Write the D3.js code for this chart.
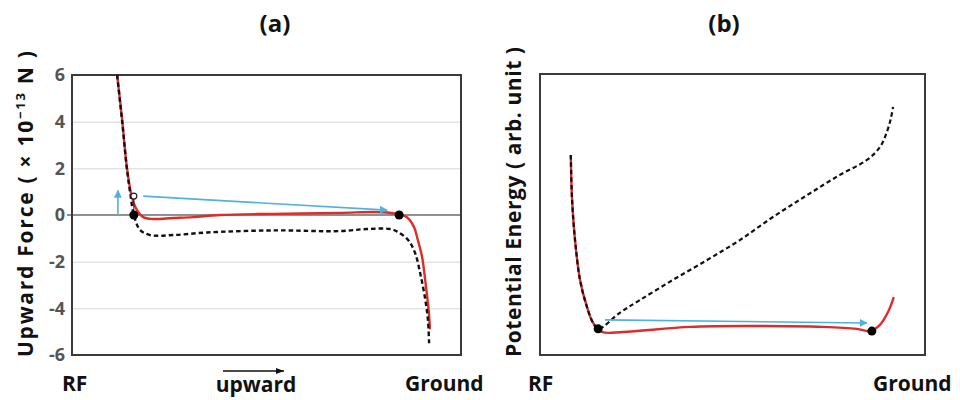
<!DOCTYPE html>
<html>
<head>
<meta charset="utf-8">
<script src="https://cdn.jsdelivr.net/npm/d3@7"></script>
<style>
  html, body { margin: 0; padding: 0; background: #fff; }
  svg { display: block; }
  text { font-family: "Open Sans", "Noto Sans", sans-serif; font-weight: 700; }
</style>
</head>
<body>
<svg id="chart" width="960" height="400"></svg>
<script>
// ---- Panel (a): upward force vs. position between RF electrode and ground ----
const forceTicks = [-6, -4, -2, 0, 2, 4, 6];
// total force with the DC field (solid red)
const forceTotal = [
  [11.6, 6], [12.9, 4.07], [14.1, 2.06], [15.4, 0.77], [16.7, 0.21], [18.3, -0.09],
  [20.8, -0.17], [26.0, -0.13], [31.1, -0.09], [38.0, 0], [51.7, 0.05], [68.9, 0.09],
  [77.4, 0.13], [81.0, 0.11], [83.8, 0.04], [86.1, -0.1], [87.9, -0.51], [88.9, -1.07],
  [90.0, -1.8], [90.8, -2.79], [91.4, -3.64], [91.8, -4.3], [92.0, -4.9]
];
// force without the DC field (dashed black)
const forceNoField = [
  [11.6, 6], [12.9, 4.0], [14.1, 2.0], [15.0, 0.9], [15.9, 0], [17.5, -0.64],
  [20.1, -0.86], [26.0, -0.86], [34.7, -0.75], [51.7, -0.66], [68.9, -0.69],
  [75.8, -0.6], [81.7, -0.6], [83.5, -0.7], [86.4, -1.07], [88.2, -1.63],
  [89.5, -2.49], [90.7, -3.51], [91.5, -4.5], [91.8, -5.5]
];
const forceEquilibria = [[15.9, 0], [84.1, 0]];
const forceKick = [[11.8, 0], [11.8, 1.05]];          // small upward push
const forceKickPoint = [15.9, 0.81];                  // open circle on the wall
const forceTransfer = [[18.3, 0.81], [81.0, 0.21]];   // hop toward ground

// ---- Panel (b): potential energy ----
const energyTotal = [
  [8.0, 7.12], [8.3, 5.62], [9.1, 4.09], [10.4, 2.67], [12.2, 1.71], [13.8, 1.14],
  [16.1, 0.82], [21.6, 0.82], [39.0, 1.0], [56.4, 1.03], [73.5, 1.0], [82.3, 0.93],
  [85.7, 0.85], [88.3, 1.07], [90.4, 1.53], [91.9, 2.06]
];
const energyNoField = [
  [8.0, 7.12], [8.3, 5.62], [9.1, 4.09], [10.4, 2.67], [12.2, 1.71], [13.8, 1.14],
  [15.1, 0.93], [20.8, 1.51], [26.0, 1.96], [34.5, 2.67], [43.4, 3.38], [51.9, 4.09],
  [60.5, 4.91], [69.4, 5.69], [77.9, 6.41], [84.9, 6.94], [88.3, 7.40], [90.1, 7.94],
  [91.1, 8.40], [91.7, 8.83]
];
const energyMinima = [[15.1, 0.93], [86.2, 0.85]];
const energyTransfer = [[16.9, 1.25], [84.9, 1.14]];

const panelTitles = ["(a)", "(b)"];
const endLabels = ["RF", "Ground"];

const RED = "#dd2c2a", BLUE = "#4db3db", BOX = "#3a3a3a";

const svg = d3.select("#chart");
svg.append("rect").attr("width", 960).attr("height", 400).attr("fill", "#fff");

const defs = svg.append("defs");
defs.append("marker")
  .attr("id", "blueHead").attr("viewBox", "0 0 10 10")
  .attr("refX", 9).attr("refY", 5)
  .attr("markerWidth", 5).attr("markerHeight", 5)
  .attr("markerUnits", "strokeWidth")
  .attr("orient", "auto")
  .append("path").attr("d", "M0,0 L10,5 L0,10 z").attr("fill", BLUE);

const curve = d3.curveCatmullRom.alpha(0.5);

// ================= Panel (a) =================
const A = { left: 72, right: 461, top: 75, bottom: 355 };
const xA = d3.scaleLinear().domain([0, 100]).range([A.left, A.right]);
const yA = d3.scaleLinear().domain([-6, 6]).range([A.bottom, A.top]);
const gA = svg.append("g");

// light grid
gA.append("g")
  .attr("transform", `translate(${A.left},0)`)
  .call(d3.axisLeft(yA).tickValues(forceTicks.filter(v => Math.abs(v) !== 6 && v !== 0))
        .tickSize(-(A.right - A.left)).tickFormat(""))
  .call(g => g.select(".domain").remove())
  .call(g => g.selectAll("line").attr("stroke", "#d6d6d6").attr("stroke-width", 1));

// tick labels
gA.append("g")
  .attr("transform", `translate(${A.left},0)`)
  .call(d3.axisLeft(yA).tickValues(forceTicks).tickSize(0).tickPadding(7)
        .tickFormat(d => d))
  .call(g => g.select(".domain").remove())
  .call(g => g.selectAll("text")
      .attr("fill", "#555").attr("font-size", 18).attr("font-weight", 700)
      .style("font-family", "'Open Sans', sans-serif"));

// zero line
gA.append("line")
  .attr("x1", A.left - 5).attr("x2", A.right)
  .attr("y1", yA(0)).attr("y2", yA(0))
  .attr("stroke", "#222").attr("stroke-width", 1.2);

// box
gA.append("rect")
  .attr("x", A.left).attr("y", A.top)
  .attr("width", A.right - A.left).attr("height", A.bottom - A.top)
  .attr("fill", "none").attr("stroke", BOX).attr("stroke-width", 2);

const lineA = d3.line().x(d => xA(d[0])).y(d => yA(d[1])).curve(curve);

gA.append("path").datum(forceTotal).attr("d", lineA)
  .attr("fill", "none").attr("stroke", RED).attr("stroke-width", 2.4);
gA.append("path").datum(forceNoField).attr("d", lineA)
  .attr("fill", "none").attr("stroke", "#111").attr("stroke-width", 2.4)
  .attr("stroke-dasharray", "4.5,3");

// blue arrows
const straightA = d3.line().x(d => xA(d[0])).y(d => yA(d[1]));
gA.append("path").datum(forceKick).attr("d", straightA)
  .attr("stroke", BLUE).attr("stroke-width", 1.6).attr("fill", "none")
  .attr("marker-end", "url(#blueHead)");
gA.append("path").datum(forceTransfer).attr("d", straightA)
  .attr("stroke", BLUE).attr("stroke-width", 1.6).attr("fill", "none")
  .attr("marker-end", "url(#blueHead)");

// markers
gA.append("line")
  .attr("x1", xA(forceKickPoint[0])).attr("x2", xA(forceEquilibria[0][0]))
  .attr("y1", yA(forceKickPoint[1])).attr("y2", yA(0))
  .attr("stroke", "#222").attr("stroke-width", 1);
gA.append("circle")
  .attr("cx", xA(forceKickPoint[0])).attr("cy", yA(forceKickPoint[1])).attr("r", 3)
  .attr("fill", "#fff").attr("stroke", "#222").attr("stroke-width", 1.2);
gA.selectAll("circle.eq").data(forceEquilibria).join("circle").attr("class", "eq")
  .attr("cx", d => xA(d[0])).attr("cy", d => yA(d[1])).attr("r", 4.5).attr("fill", "#000");

// titles and labels
gA.append("text").attr("x", 275).attr("y", 32).attr("text-anchor", "middle")
  .attr("font-size", 24).attr("fill", "#111").text(panelTitles[0]);

const yTitleA = gA.append("text")
  .attr("transform", `translate(33,204) rotate(-90)`)
  .attr("text-anchor", "middle").attr("font-size", 21).attr("fill", "#111")
  .attr("textLength", 306).attr("lengthAdjust", "spacing");
yTitleA.append("tspan").text("Upward Force  ( × 10");
yTitleA.append("tspan").attr("dy", -8).attr("font-size", 13).text("−13");
yTitleA.append("tspan").attr("dy", 8).text(" N )");

gA.append("text").attr("x", 62).attr("y", 391).attr("font-size", 21)
  .attr("fill", "#111").text(endLabels[0]);
gA.append("text").attr("x", 256).attr("y", 392).attr("text-anchor", "middle")
  .attr("font-size", 21).attr("fill", "#111").text("upward");
gA.append("line").attr("x1", 223).attr("x2", 284).attr("y1", 371).attr("y2", 371)
  .attr("stroke", "#111").attr("stroke-width", 1.3);
gA.append("path").attr("d", "M284,371 l-8,-3 l0,6 z").attr("fill", "#111");
gA.append("text").attr("x", 405).attr("y", 391).attr("font-size", 21)
  .attr("fill", "#111").text(endLabels[1]);

// ================= Panel (b) =================
const B = { left: 540, right: 925, top: 74, bottom: 355 };
const xB = d3.scaleLinear().domain([0, 100]).range([B.left, B.right]);
const yB = d3.scaleLinear().domain([0, 10]).range([B.bottom, B.top]);
const gB = svg.append("g");

gB.append("rect")
  .attr("x", B.left).attr("y", B.top)
  .attr("width", B.right - B.left).attr("height", B.bottom - B.top)
  .attr("fill", "none").attr("stroke", BOX).attr("stroke-width", 2);

const lineB = d3.line().x(d => xB(d[0])).y(d => yB(d[1])).curve(curve);

gB.append("path").datum(energyTotal).attr("d", lineB)
  .attr("fill", "none").attr("stroke", RED).attr("stroke-width", 2.4);
gB.append("path").datum(energyNoField).attr("d", lineB)
  .attr("fill", "none").attr("stroke", "#111").attr("stroke-width", 2.2)
  .attr("stroke-dasharray", "4.5,3");

gB.append("path").datum(energyTransfer)
  .attr("d", d3.line().x(d => xB(d[0])).y(d => yB(d[1])))
  .attr("stroke", BLUE).attr("stroke-width", 1.6).attr("fill", "none")
  .attr("marker-end", "url(#blueHead)");

gB.selectAll("circle.min").data(energyMinima).join("circle").attr("class", "min")
  .attr("cx", d => xB(d[0])).attr("cy", d => yB(d[1])).attr("r", 4.5).attr("fill", "#000");

gB.append("text").attr("x", 724).attr("y", 32).attr("text-anchor", "middle")
  .attr("font-size", 24).attr("fill", "#111").text(panelTitles[1]);

gB.append("text")
  .attr("transform", `translate(521,202) rotate(-90)`)
  .attr("text-anchor", "middle").attr("font-size", 21).attr("fill", "#111")
  .attr("textLength", 310).attr("lengthAdjust", "spacing")
  .text("Potential Energy  ( arb. unit )");

gB.append("text").attr("x", 528).attr("y", 391).attr("font-size", 21)
  .attr("fill", "#111").text(endLabels[0]);
gB.append("text").attr("x", 873).attr("y", 391).attr("font-size", 21)
  .attr("fill", "#111").text(endLabels[1]);
</script>
</body>
</html>
